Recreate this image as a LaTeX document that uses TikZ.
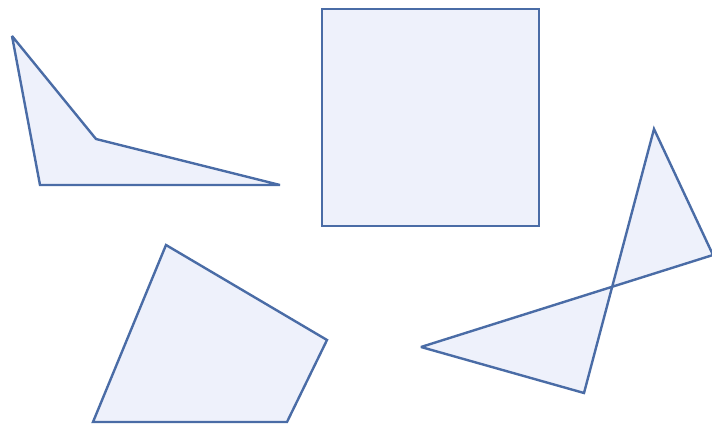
\documentclass[tikz,border=0pt]{standalone}
\definecolor{edge}{HTML}{4A6CA6}
\definecolor{fillc}{HTML}{EEF1FB}
\tikzset{poly/.style={draw=edge,fill=fillc,line width=2.4pt,line join=miter,miter limit=3}}
\begin{document}
\begin{tikzpicture}[x=1pt,y=-1pt]
\useasboundingbox (0,0) rectangle (712,427);
\clip (0,0) rectangle (712,427);
\draw[poly] (12,36) -- (96,139) -- (280,185) -- (40,185) -- cycle;
\draw[poly] (322,9) rectangle (539,226);
\draw[poly] (166,245) -- (327,340) -- (287,422) -- (93,422) -- cycle;
\draw[poly] (654,129) -- (713,255) -- (421,347) -- (584,393) -- cycle;
\end{tikzpicture}
\end{document}
